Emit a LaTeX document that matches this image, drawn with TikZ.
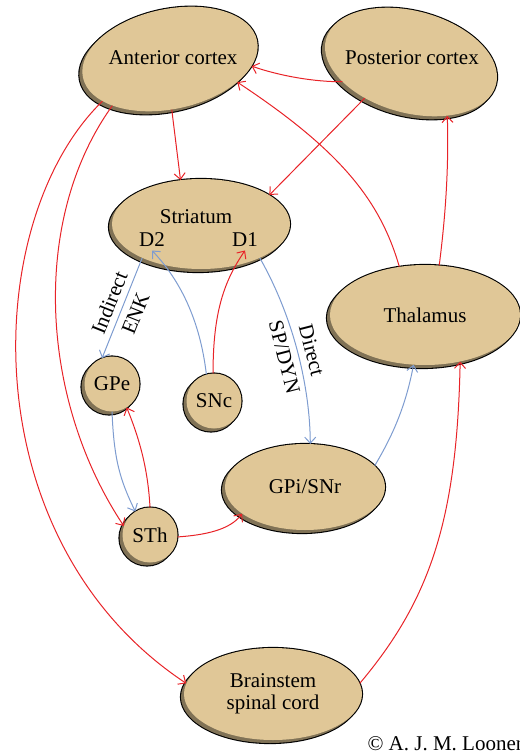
\documentclass[tikz,border=0pt]{standalone}
\usepackage{fontspec}
\setmainfont{Liberation Serif}
\usetikzlibrary{
arrows.meta,
positioning,
shapes
}
\tikzset{>=latex}
\definecolor{nodetan}{RGB}{224,199,151}
\definecolor{nodeshade}{RGB}{128,114,86}
\definecolor{pathred}{RGB}{232,35,40}
\definecolor{pathblue}{RGB}{126,156,208}

\begin{document}
\begin{tikzpicture}[x=1pt, y=-1pt, font=\fontsize{21}{22}\selectfont]
		\tikzset{region/.style={ellipse,fill=nodetan,inner sep=0pt,
				preaction={draw=black,line width=2.2pt,transform canvas={shift={(-3pt,-3pt)}}},
				preaction={draw=black,line width=2.2pt},
				preaction={fill=nodeshade,transform canvas={shift={(-3pt,-3pt)}}}}}
		\tikzset{nucleus/.style={region,circle,minimum size=55pt}}
		\tikzset{excite/.style={draw=pathred,line width=1pt,-{Straight Barb[length=6pt,width=11pt]}}}
		\tikzset{modul/.style={draw=pathblue,line width=1pt,-{Straight Barb[length=6pt,width=11pt]}}}
		\tikzset{pathlabel/.style={sloped,align=center,inner sep=1pt,font=\fontsize{21}{28}\selectfont}}
		
		\useasboundingbox (0,0) rectangle (519,754);
		
		\node[region,rotate=12,minimum width=178pt,minimum height=100pt] (antcortex) at (170,59) {};
		\node[region,rotate=-15,minimum width=176pt,minimum height=102pt] (postcortex) at (411,62) {};
		\node (antlabel) at (173,58) {Anterior cortex};
		\node (postlabel) at (412,58) {Posterior cortex};
		
		\node[region,minimum width=178pt,minimum height=90pt] (striatum) at (201,224) {};
		\node (strlabel) at (196,217) {Striatum};
		\node (dtwo) at (152,240) {D2};
		\node (done) at (245,240) {D1};
		
		\node[region,minimum width=190pt,minimum height=100pt] (thalamus) at (425,315) {Thalamus};
		\node[region,minimum width=160pt,minimum height=86pt] (gpisnr) at (305,487) {GPi/SNr};
		\node[region,minimum width=178pt,minimum height=92pt,align=center] (brainstem) at (273,694) {Brainstem\\spinal cord};
		
		\node[nucleus] (gpe) at (112,384) {GPe};
		\node[nucleus] (snc) at (214,401) {SNc};
		\node[nucleus] (sth) at (150,535) {STh};
		
		\node[anchor=base west] (credit) at (364,750) {© A. J. M. Loonen};
		
		\draw[excite] (postcortex.211) .. controls (315,82) and (280,76) .. (antcortex.-17.6);
		\draw[excite] (thalamus.118.4) .. controls (380,200) and (340,150) .. (antcortex.-31.4);
		\draw[excite] (thalamus.74.4) .. controls (445,220) and (449,170) .. (postcortex.-41.8);
		\draw[excite] (antcortex.-100) -- (striatum.115.5);
		\draw[excite] (postcortex.233) -- (striatum.23.5);
		\draw[excite] (antcortex.200.5) .. controls (-20,220) and (-30,540) .. (brainstem.173);
		\draw[excite] (antcortex.207) .. controls (30,220) and (40,400) .. (sth.161.6);
		
		\draw[modul] (striatum.210.7) -- node[pathlabel] {Indirect\\ENK} (gpe.111.4);
		\draw[modul] (striatum.-30.5) .. controls (295,320) and (310,390) .. node[pathlabel] {Direct\\SP/DYN} (gpisnr.83);
		\draw[modul] (snc.106.5) .. controls (200,320) and (180,280) .. (dtwo.south);
		\draw[excite] (snc.92) .. controls (213,310) and (225,280) .. (done.south);
		
		\draw[modul] (gpe.-90) .. controls (114,460) and (120,480) .. (sth.122.7);
		\draw[excite] (sth.90) .. controls (148,470) and (140,440) .. (gpe.-58.4);
		\draw[excite] (sth.-4.4) .. controls (205,535) and (230,530) .. (gpisnr.203.9);
		\draw[modul] (gpisnr.17.4) .. controls (390,440) and (405,410) .. (thalamus.-103.3);
		\draw[excite] (brainstem.7.4) .. controls (430,600) and (457,520) .. (thalamus.-53);
	\end{tikzpicture}
\end{document}
